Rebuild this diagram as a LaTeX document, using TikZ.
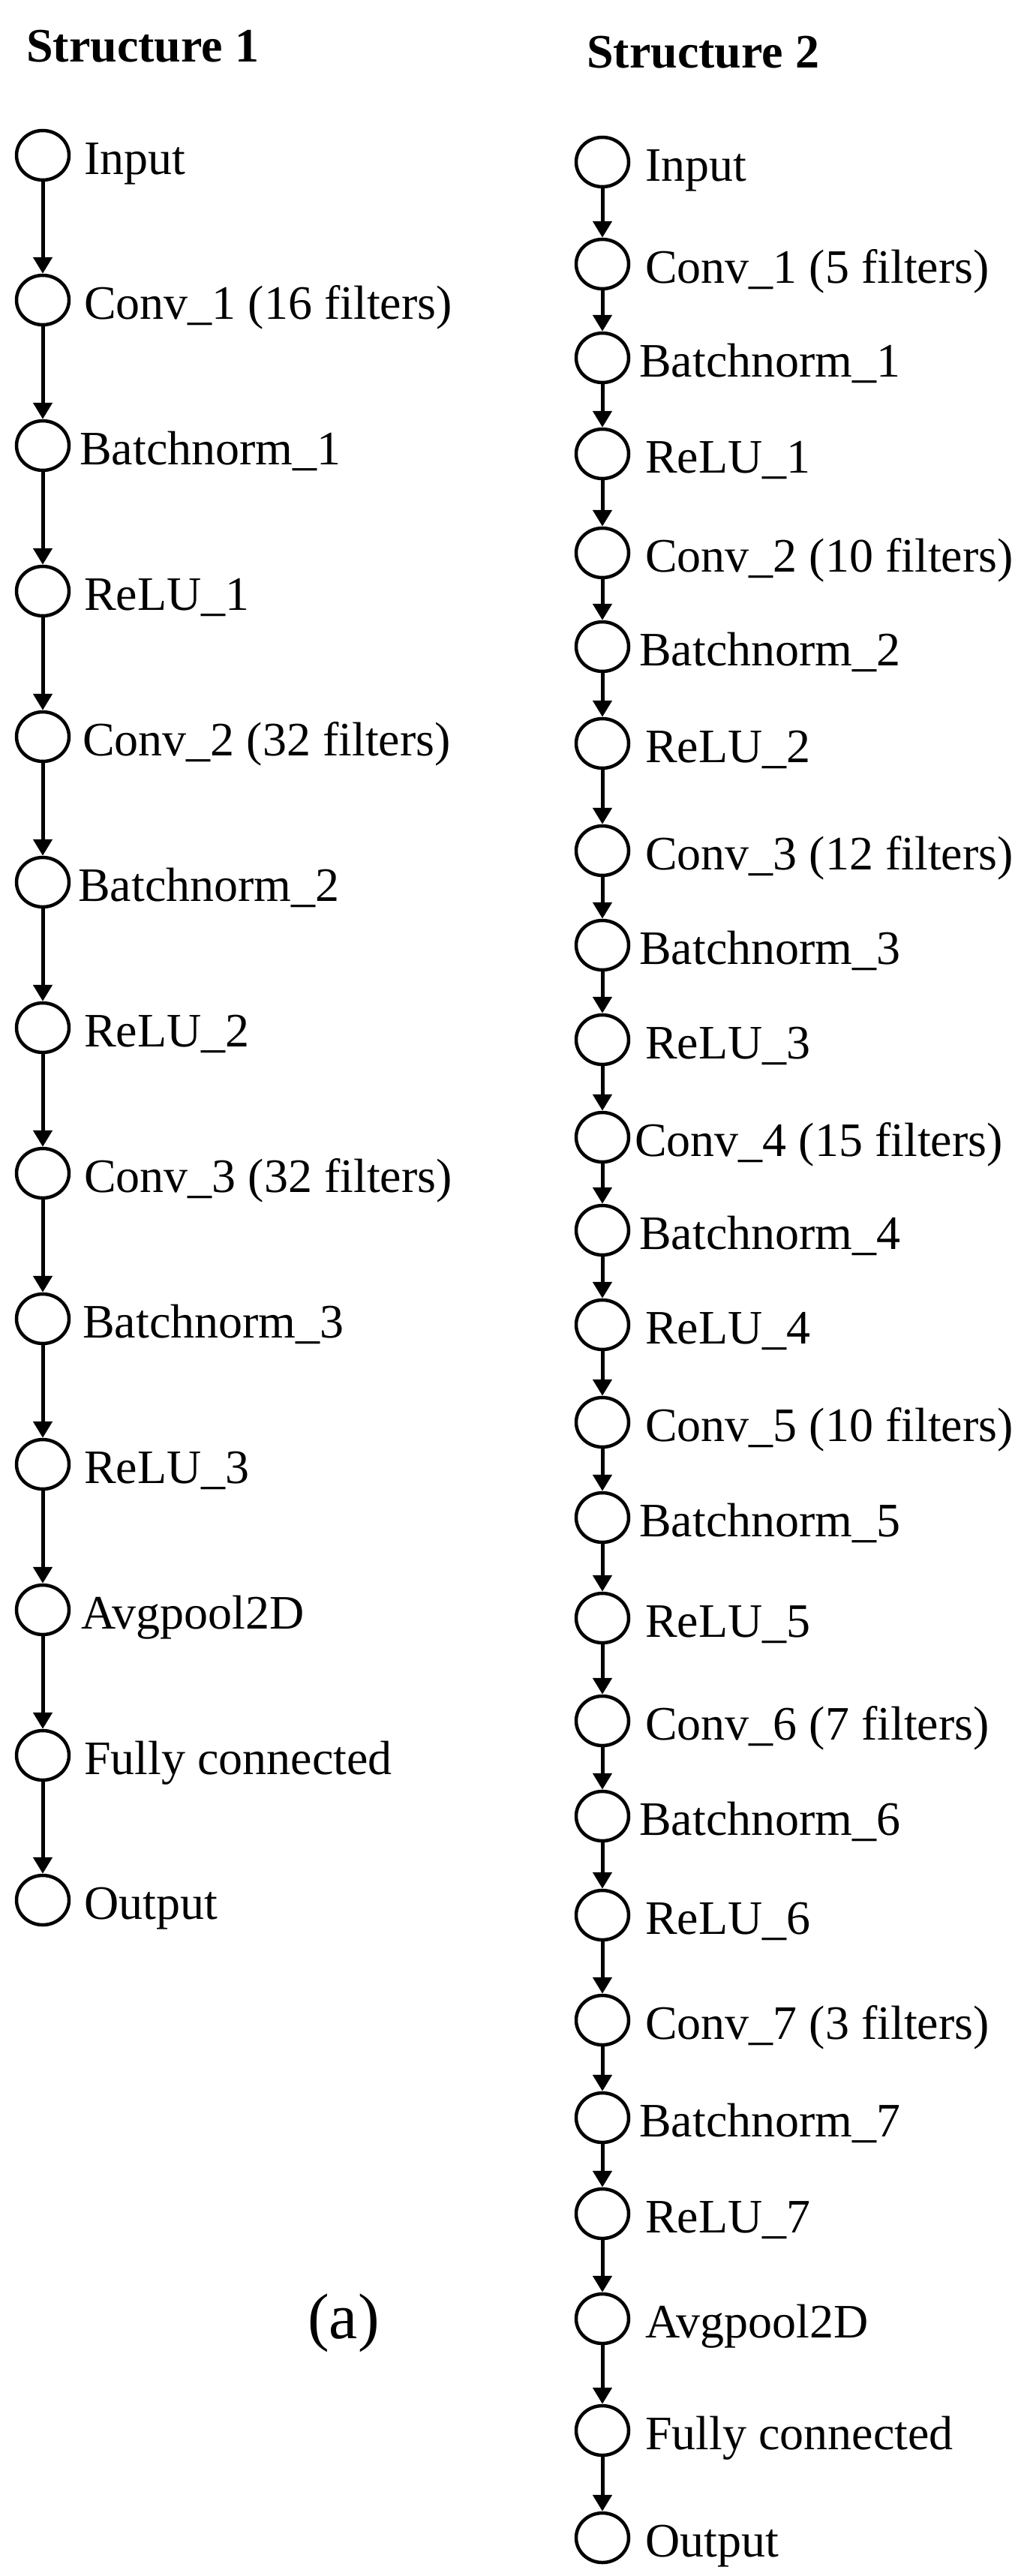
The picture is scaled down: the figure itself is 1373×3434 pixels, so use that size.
\documentclass[tikz,border=0pt]{standalone}
\usepackage{fontspec}
\setmainfont{Liberation Serif}
\usetikzlibrary{shapes.geometric,arrows.meta}
\newcommand{\lblfont}{\fontsize{64}{70}\selectfont}
\newcommand{\ttlfont}{\fontsize{64}{70}\selectfont\bfseries}
\newcommand{\capfont}{\fontsize{86}{90}\selectfont}
\tikzset{
  nd/.style={ellipse, draw, line width=4.5pt, minimum width=70pt, minimum height=66pt, inner sep=0pt},
  lbl/.style={anchor=base west, inner sep=0pt, font=\lblfont},
  ttl/.style={anchor=base west, inner sep=0pt, font=\ttlfont},
  arr/.style={line width=5pt, -{Triangle[width=25pt,length=22pt]}}
}
\begin{document}
\begin{tikzpicture}[x=1pt,y=1pt]
\useasboundingbox (0,0) rectangle (1373,-3434);
% titles
\node[ttl] (t1) at (35,-82) {Structure 1};
\node[ttl] (t2) at (782,-90) {Structure 2};
% structure 1
\foreach \i/\y/\t/\dx in {
 1/207/{Input}/0,
 2/400/{Conv\_1 (16 filters)}/0,
 3/594/{Batchnorm\_1}/-6,
 4/788/{ReLU\_1}/0,
 5/982/{Conv\_2 (32 filters)}/-2,
 6/1176/{Batchnorm\_2}/-8,
 7/1370/{ReLU\_2}/0,
 8/1564/{Conv\_3 (32 filters)}/0,
 9/1758/{Batchnorm\_3}/-2,
 10/1952/{ReLU\_3}/0,
 11/2146/{Avgpool2D}/-4,
 12/2340/{Fully connected}/0,
 13/2533/{Output}/0}{
  \node[nd] (a\i) at (57,-\y) {};
  \node[lbl] (la\i) at (112+\dx,-\y-25) {\t};
}
\foreach \i in {1,...,12}{
  \pgfmathtruncatemacro\k{\i+1}
  \draw[arr] (a\i.south) -- (a\k.north);
}
% structure 2
\foreach \i/\y/\t/\dx in {
 1/216/{Input}/0,
 2/352/{Conv\_1 (5 filters)}/0,
 3/477/{Batchnorm\_1}/-8,
 4/605/{ReLU\_1}/0,
 5/737/{Conv\_2 (10 filters)}/0,
 6/862/{Batchnorm\_2}/-8,
 7/991/{ReLU\_2}/0,
 8/1134/{Conv\_3 (12 filters)}/0,
 9/1260/{Batchnorm\_3}/-8,
 10/1386/{ReLU\_3}/0,
 11/1516/{Conv\_4 (15 filters)}/-14,
 12/1640/{Batchnorm\_4}/-8,
 13/1766/{ReLU\_4}/0,
 14/1896/{Conv\_5 (10 filters)}/0,
 15/2023/{Batchnorm\_5}/-8,
 16/2157/{ReLU\_5}/0,
 17/2294/{Conv\_6 (7 filters)}/0,
 18/2421/{Batchnorm\_6}/-8,
 19/2553/{ReLU\_6}/0,
 20/2693/{Conv\_7 (3 filters)}/0,
 21/2823/{Batchnorm\_7}/-8,
 22/2951/{ReLU\_7}/0,
 23/3091/{Avgpool2D}/0,
 24/3240/{Fully connected}/0,
 25/3383/{Output}/0}{
  \node[nd] (b\i) at (803,-\y) {};
  \node[lbl] (lb\i) at (860+\dx,-\y-25) {\t};
}
\foreach \i in {1,...,24}{
  \pgfmathtruncatemacro\k{\i+1}
  \draw[arr] (b\i.south) -- (b\k.north);
}
% caption
\node[anchor=base west, inner sep=0pt, font=\capfont] (cap) at (410,-3117) {(a)};
\end{tikzpicture}
\end{document}
